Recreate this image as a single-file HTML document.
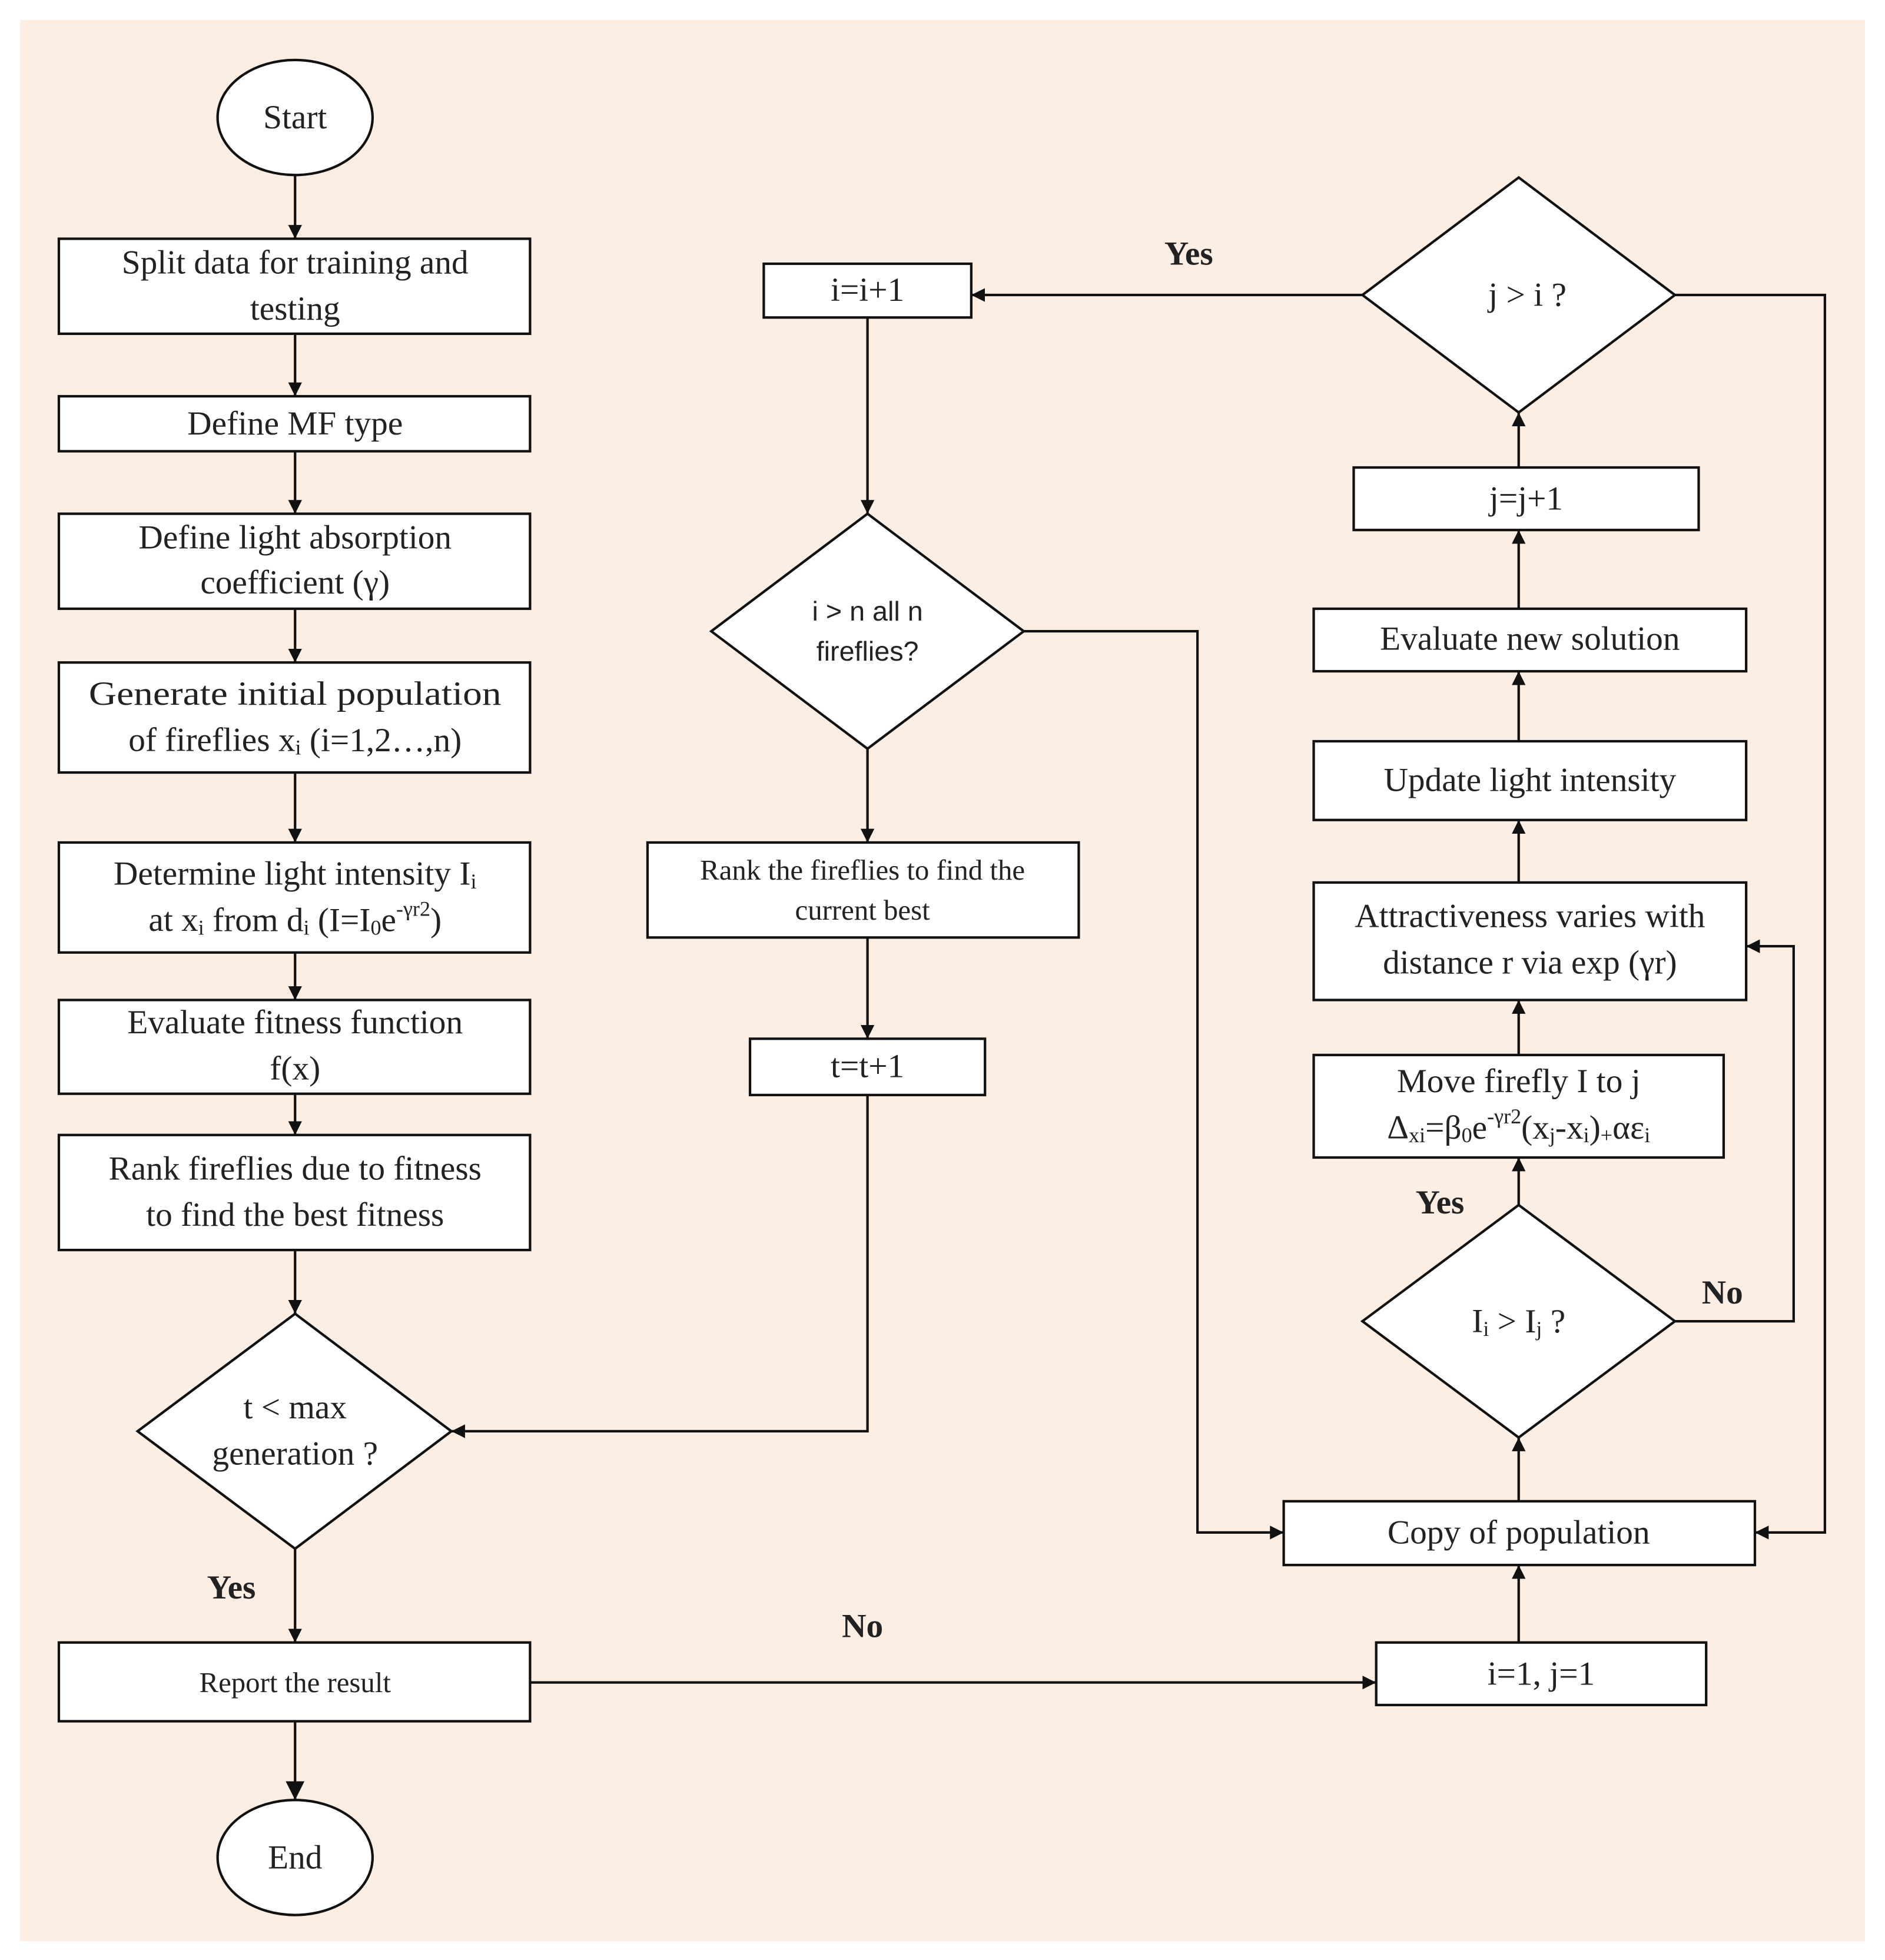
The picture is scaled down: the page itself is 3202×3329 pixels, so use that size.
<!DOCTYPE html>
<html><head><meta charset="utf-8"><style>html,body{margin:0;padding:0;background:#fff}svg{display:block}</style></head><body>
<svg width="3202" height="3329" viewBox="0 0 1508 1568" xmlns="http://www.w3.org/2000/svg" font-family="Liberation Serif, serif" font-size="27" fill="#222">
<defs><marker id="a" viewBox="0 0 10 10" refX="10" refY="5" markerWidth="11" markerHeight="11" markerUnits="userSpaceOnUse" orient="auto"><path d="M0,0L10,5L0,10z" fill="#111"/></marker>
<marker id="b" viewBox="0 0 10 10" refX="10" refY="5" markerWidth="15" markerHeight="15" markerUnits="userSpaceOnUse" orient="auto"><path d="M0,0L10,5L0,10z" fill="#111"/></marker></defs>
<rect x="16" y="16" width="1476" height="1537" fill="#fdeee4"/>
<g stroke="#111" stroke-width="2" fill="#fff">
<ellipse cx="236" cy="94" rx="62" ry="46"/>
<rect x="47" y="191" width="377" height="76"/>
<rect x="47" y="317" width="377" height="44"/>
<rect x="47" y="411" width="377" height="76"/>
<rect x="47" y="530" width="377" height="88"/>
<rect x="47" y="674" width="377" height="88"/>
<rect x="47" y="800" width="377" height="75"/>
<rect x="47" y="908" width="377" height="92"/>
<polygon points="236,1051 361,1145 236,1239 110,1145"/>
<rect x="47" y="1314" width="377" height="63"/>
<ellipse cx="236" cy="1486" rx="62" ry="46"/>
<rect x="1101" y="1314" width="264" height="50"/>
<rect x="1027" y="1201" width="377" height="51"/>
<polygon points="1215,964 1340,1057 1215,1150 1090,1057"/>
<rect x="1051" y="844" width="328" height="82"/>
<rect x="1051" y="706" width="346" height="94"/>
<rect x="1051" y="593" width="346" height="63"/>
<rect x="1051" y="487" width="346" height="50"/>
<rect x="1083" y="374" width="276" height="50"/>
<polygon points="1215,142 1340,236 1215,330 1090,236"/>
<rect x="611" y="211" width="166" height="43"/>
<polygon points="694,411 819,505 694,599 569,505"/>
<rect x="518" y="674" width="345" height="76"/>
<rect x="600" y="831" width="188" height="45"/>
</g>
<g stroke="#111" stroke-width="2" fill="none" marker-end="url(#a)">
<path d="M236,140V191"/><path d="M236,267V317"/><path d="M236,361V411"/><path d="M236,487V530"/><path d="M236,618V674"/><path d="M236,762V800"/><path d="M236,875V908"/><path d="M236,1000V1051"/><path d="M236,1239V1314"/>
<path d="M236,1377V1440" marker-end="url(#b)"/>
<path d="M424,1346H1101"/><path d="M1215,1314V1252"/><path d="M1215,1201V1150"/><path d="M1215,964V926"/><path d="M1215,844V800"/><path d="M1215,706V656"/><path d="M1215,593V537"/><path d="M1215,487V424"/><path d="M1215,374V330"/>
<path d="M1340,1057H1435V757H1397"/>
<path d="M1090,236H777"/>
<path d="M1340,236H1460V1226H1404"/>
<path d="M694,254V411"/>
<path d="M819,505H958V1226H1027"/>
<path d="M694,599V674"/><path d="M694,750V831"/>
<path d="M694,876V1145H361"/>
</g>
<g text-anchor="middle" dominant-baseline="central">
<text x="236" y="94">Start</text>
<text x="236" y="210">Split data for training and</text>
<text x="236" y="247">testing</text>
<text x="236" y="339">Define MF type</text>
<text x="236" y="430">Define light absorption</text>
<text x="236" y="466">coefficient (γ)</text>
<text x="236" y="555" textLength="330" lengthAdjust="spacingAndGlyphs">Generate initial population</text>
<text x="236" y="592">of fireflies x<tspan font-size="17" dy="6">i</tspan><tspan dy="-6"> (i=1,2…,n)</tspan></text>
<text x="236" y="699">Determine light intensity I<tspan font-size="17" dy="6">i</tspan></text>
<text x="236" y="736">at x<tspan font-size="17" dy="6">i</tspan><tspan dy="-6"> from d</tspan><tspan font-size="17" dy="6">i</tspan><tspan dy="-6"> (I=I</tspan><tspan font-size="17" dy="6">0</tspan><tspan dy="-6">e</tspan><tspan font-size="17" dy="-9">-γr2</tspan><tspan dy="9">)</tspan></text>
<text x="236" y="818">Evaluate fitness function</text>
<text x="236" y="855">f(x)</text>
<text x="236" y="935">Rank fireflies due to fitness</text>
<text x="236" y="972">to find the best fitness</text>
<text x="236" y="1126">t &lt; max</text>
<text x="236" y="1163">generation ?</text>
<text x="185" y="1270" font-weight="bold">Yes</text>
<text x="236" y="1346" font-size="23">Report the result</text>
<text x="236" y="1486">End</text>
<text x="690" y="1301" font-weight="bold">No</text>
<text x="1233" y="1339">i=1, j=1</text>
<text x="1215" y="1226">Copy of population</text>
<text x="1215" y="1057">I<tspan font-size="17" dy="6">i</tspan><tspan dy="-6"> &gt; I</tspan><tspan font-size="17" dy="6">j</tspan><tspan dy="-6"> ?</tspan></text>
<text x="1152" y="962" font-weight="bold">Yes</text>
<text x="1378" y="1034" font-weight="bold">No</text>
<text x="1215" y="865">Move firefly I to j</text>
<text x="1215" y="902">Δ<tspan font-size="17" dy="6">xi</tspan><tspan dy="-6">=β</tspan><tspan font-size="17" dy="6">0</tspan><tspan dy="-6">e</tspan><tspan font-size="17" dy="-9">-γr2</tspan><tspan dy="9">(x</tspan><tspan font-size="17" dy="6">j</tspan><tspan dy="-6">-x</tspan><tspan font-size="17" dy="6">i</tspan><tspan dy="-6">)</tspan><tspan font-size="17" dy="6">+</tspan><tspan dy="-6">αε</tspan><tspan font-size="17" dy="6">i</tspan></text>
<text x="1224" y="733">Attractiveness varies with</text>
<text x="1224" y="770">distance r via exp (γr)</text>
<text x="1224" y="624">Update light intensity</text>
<text x="1224" y="511">Evaluate new solution</text>
<text x="1221" y="399">j=j+1</text>
<text x="1222" y="236">j &gt; i ?</text>
<text x="951" y="203" font-weight="bold">Yes</text>
<text x="694" y="232">i=i+1</text>
<text x="694" y="489" font-family="Liberation Sans, sans-serif" font-size="22">i &gt; n all n</text>
<text x="694" y="521" font-family="Liberation Sans, sans-serif" font-size="22">fireflies?</text>
<text x="690" y="696" font-size="23">Rank the fireflies to find the</text>
<text x="690" y="728" font-size="23">current best</text>
<text x="694" y="853">t=t+1</text>
</g>
</svg>
</body></html>
